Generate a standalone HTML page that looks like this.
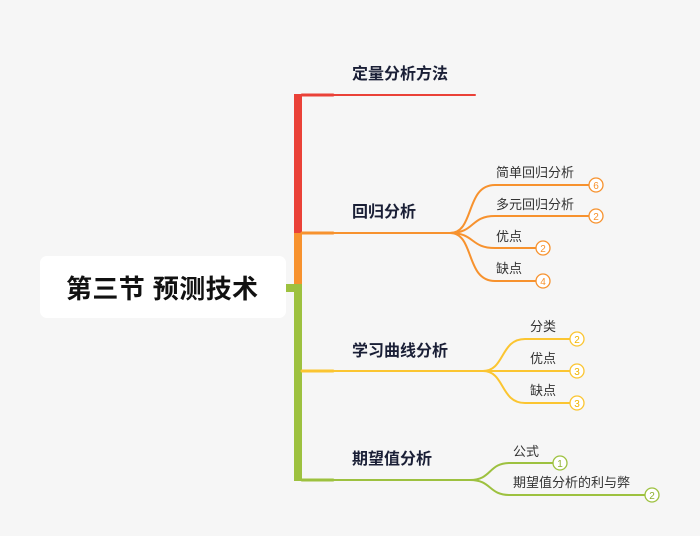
<!DOCTYPE html>
<html><head><meta charset="utf-8"><style>
html,body{margin:0;background:#f6f6f6;overflow:hidden;width:700px;height:536px;}
svg{display:block;}
svg text{font-family:"Liberation Sans","Noto Sans CJK SC",sans-serif;}
</style></head><body>
<svg width="700" height="536" xmlns="http://www.w3.org/2000/svg">
<rect width="700" height="536" fill="#f6f6f6"/>
<rect x="40" y="256" width="246" height="62" rx="7" fill="#fff"/>
<text x="66" y="298" font-size="26" font-weight="bold" fill="#111" textLength="192">第三节 预测技术</text>
<rect x="286" y="284" width="10" height="8" fill="#9dc13f"/>
<rect x="294" y="94" width="8" height="139" fill="#ea4138"/>
<rect x="294" y="233" width="8" height="51" fill="#f7922e"/>
<rect x="294" y="284" width="8" height="197" fill="#9dc13f"/>
<g fill="none" stroke-linecap="round">
<path d="M302 95H333" stroke="#ea4138" stroke-width="3"/><path d="M333 95H475" stroke="#ea4138" stroke-width="2"/>
<path d="M302 233H333" stroke="#f7922e" stroke-width="3"/><path d="M333 233H450" stroke="#f7922e" stroke-width="2"/>
<g stroke="#f7922e" stroke-width="2">
<path d="M450 233C475 233 465 185 495 185H589"/>
<path d="M450 233C475 233 470 216 495 216H589"/>
<path d="M450 233C475 233 470 248 495 248H536"/>
<path d="M450 233C475 233 465 281 495 281H536"/>
</g>
<path d="M302 371H333" stroke="#fbc531" stroke-width="3"/><path d="M333 371H483" stroke="#fbc531" stroke-width="2"/>
<g stroke="#fbc531" stroke-width="2">
<path d="M483 371C505 371 500 339 525 339H570"/>
<path d="M483 371H570"/>
<path d="M483 371C505 371 500 403 525 403H570"/>
</g>
<path d="M302 480H333" stroke="#9dc13f" stroke-width="3"/><path d="M333 480H470" stroke="#9dc13f" stroke-width="2"/>
<g stroke="#9dc13f" stroke-width="2">
<path d="M470 480C492 480 488 463 510 463H553"/>
<path d="M470 480C492 480 488 495 510 495H645"/>
</g>
</g>
<g font-size="16" font-weight="bold" fill="#1a1f36">
<text x="352" y="79">定量分析方法</text>
<text x="352" y="217">回归分析</text>
<text x="352" y="356">学习曲线分析</text>
<text x="352" y="464">期望值分析</text>
</g>
<g font-size="13" fill="#333">
<text x="496" y="177">简单回归分析</text>
<text x="496" y="209">多元回归分析</text>
<text x="496" y="241">优点</text>
<text x="496" y="273">缺点</text>
<text x="530" y="331">分类</text>
<text x="530" y="363">优点</text>
<text x="530" y="395">缺点</text>
<text x="513" y="456">公式</text>
<text x="513" y="487">期望值分析的利与弊</text>
</g>
<g fill="#fff" stroke-width="1.3">
<g stroke="#f7922e"><circle cx="596" cy="185" r="7"/><circle cx="596" cy="216" r="7"/><circle cx="543" cy="248" r="7"/><circle cx="543" cy="281" r="7"/></g>
<g stroke="#fbc531"><circle cx="577" cy="339" r="7"/><circle cx="577" cy="371" r="7"/><circle cx="577" cy="403" r="7"/></g>
<g stroke="#9dc13f"><circle cx="560" cy="463" r="7"/><circle cx="652" cy="495" r="7"/></g>
</g>
<g font-size="10" text-anchor="middle">
<g fill="#f7922e"><text x="596" y="189">6</text><text x="596" y="220">2</text><text x="543" y="252">2</text><text x="543" y="285">4</text></g>
<g fill="#f0b400"><text x="577" y="343">2</text><text x="577" y="375">3</text><text x="577" y="407">3</text></g>
<g fill="#8db030"><text x="560" y="467">1</text><text x="652" y="499">2</text></g>
</g>
</svg>
</body></html>
